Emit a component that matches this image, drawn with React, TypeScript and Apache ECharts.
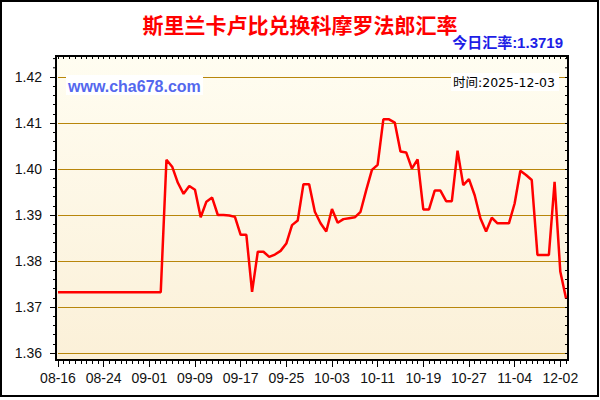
import React, { useEffect, useRef } from "react";
import * as echarts from "echarts";

const titleText = "斯里兰卡卢比兑换科摩罗法郎汇率";
const todayText = "今日汇率:1.3719";
const timeText = "时间:2025-12-03";
const watermark = "www.cha678.com";

const dates = [
  "08-16","08-17","08-18","08-19","08-20","08-21","08-22","08-23","08-24","08-25","08-26","08-27","08-28","08-29","08-30","08-31",
  "09-01","09-02","09-03","09-04","09-05","09-06","09-07","09-08","09-09","09-10","09-11","09-12","09-13","09-14","09-15",
  "09-16","09-17","09-18","09-19","09-20","09-21","09-22","09-23","09-24","09-25","09-26","09-27","09-28","09-29","09-30",
  "10-01","10-02","10-03","10-04","10-05","10-06","10-07","10-08","10-09","10-10","10-11","10-12","10-13","10-14","10-15",
  "10-16","10-17","10-18","10-19","10-20","10-21","10-22","10-23","10-24","10-25","10-26","10-27","10-28","10-29","10-30","10-31",
  "11-01","11-02","11-03","11-04",
  "11-05","11-06","11-07","11-10","11-11","11-12","11-13",
  "12-02","12-03",
];

const rates = [
  1.3732,1.3732,1.3732,1.3732,1.3732,1.3732,1.3732,1.3732,1.3732,1.3732,
  1.3732,1.3732,1.3732,1.3732,1.3732,1.3732,1.3732,1.3732,1.3732,
  1.4020,1.4005,1.3970,1.3946,1.3963,1.3955,1.3895,1.3929,1.3938,1.3900,
  1.3900,1.3899,1.3896,1.3857,1.3857,1.3733,1.3820,1.3820,1.3809,1.3814,
  1.3822,1.3838,1.3878,1.3888,1.3967,1.3967,1.3907,1.3882,1.3864,1.3913,
  1.3883,1.3891,1.3893,1.3895,1.3907,1.3954,1.3998,1.4009,1.4108,1.4108,
  1.4101,1.4038,1.4036,1.4001,1.4021,1.3912,1.3912,1.3953,1.3953,1.3930,
  1.3930,1.4040,1.3965,1.3978,1.3943,1.3893,1.3864,1.3894,1.3882,1.3882,
  1.3882,1.3925,1.3996,1.3987,1.3976,1.3813,1.3813,1.3813,1.3972,1.3777,
  1.3719,
];

const yMin = 1.36;
const yMax = 1.42;
const yStep = 0.01;

export default function App() {
  const ref = useRef<HTMLDivElement>(null);
  useEffect(() => {
    if (!ref.current) return;
    const chart = echarts.init(ref.current, null, { renderer: "svg" });
    const labelFont = "'Liberation Sans', Arial, sans-serif";
    const tickLine = { color: "#000", width: 1 };
    const catBase = {
      type: "category" as const,
      data: dates,
      boundaryGap: false,
      axisLine: { show: false },
      splitLine: { show: false },
    };
    chart.setOption({
      animation: false,
      backgroundColor: "#ffffff",
      grid: { left: 58, right: 34, top: 77, bottom: 47, containLabel: false },
      xAxis: [
        {
          ...catBase,
          position: "bottom",
          offset: 7,
          axisTick: { show: true, interval: 7, length: 7, lineStyle: tickLine },
          axisLabel: {
            interval: 7,
            fontSize: 14,
            color: "#111",
            fontFamily: labelFont,
            margin: 11,
          },
        },
        {
          ...catBase,
          position: "bottom",
          offset: 7,
          axisTick: { show: true, interval: 0, length: 4, lineStyle: tickLine },
          axisLabel: { show: false },
        },
        {
          ...catBase,
          position: "top",
          offset: 21,
          axisTick: { show: true, interval: 0, length: 3, inside: true, lineStyle: tickLine },
          axisLabel: { show: false },
        },
      ],
      yAxis: [
        {
          type: "value",
          min: yMin,
          max: yMax,
          interval: yStep,
          position: "left",
          offset: 2,
          axisLine: { show: false },
          axisTick: { show: true, length: 6, lineStyle: tickLine },
          minorTick: { show: true, splitNumber: 5, length: 3, lineStyle: tickLine },
          axisLabel: {
            formatter: (v: number) => v.toFixed(2),
            fontSize: 14,
            color: "#111",
            fontFamily: labelFont,
            margin: 14,
          },
          splitLine: { show: true, lineStyle: { color: "#B8860B", width: 1 } },
        },
        {
          type: "value",
          min: yMin,
          max: yMax,
          interval: yStep,
          position: "right",
          offset: 2,
          axisLine: { show: false },
          axisTick: { show: true, inside: true, length: 3, lineStyle: tickLine },
          minorTick: { show: true, splitNumber: 5, length: 3, lineStyle: tickLine },
          axisLabel: { show: false },
          splitLine: { show: false },
        },
      ],
      series: [
        {
          type: "line",
          xAxisIndex: 0,
          yAxisIndex: 0,
          data: rates,
          showSymbol: false,
          symbol: "none",
          lineStyle: { color: "#FF0000", width: 2.5 },
          z: 5,
        },
      ],
      graphic: [
        {
          type: "rect",
          z: -10,
          shape: { x: 56, y: 56, width: 512, height: 304 },
          style: {
            fill: new echarts.graphic.LinearGradient(0, 0, 0, 1, [
              { offset: 0, color: "#FFFDF1" },
              { offset: 1, color: "#FBF0D8" },
            ]),
          },
        },
        {
          type: "rect",
          z: 1,
          shape: { x: 66, y: 75, width: 137, height: 20 },
          style: { fill: "#FFFFFF" },
        },
        {
          type: "text",
          z: 2,
          style: {
            text: watermark,
            x: 68,
            y: 86,
            fill: "#5468EE",
            font: "bold 16px 'Liberation Sans', Arial, sans-serif",
            textAlign: "left",
            textVerticalAlign: "middle",
          },
        },
        {
          type: "rect",
          z: 1,
          shape: { x: 451, y: 73, width: 108, height: 18 },
          style: { fill: "#FFFFFF" },
        },
        {
          type: "text",
          z: 2,
          style: {
            text: timeText,
            x: 453,
            y: 82,
            fill: "#000",
            font: "12.5px 'DejaVu Sans', 'Noto Sans CJK SC', sans-serif",
            textAlign: "left",
            textVerticalAlign: "middle",
          },
        },
        {
          type: "text",
          z: 2,
          style: {
            text: titleText,
            x: 300,
            y: 24,
            fill: "#FF0000",
            font: "bold 21px 'Noto Sans CJK SC', sans-serif",
            textAlign: "center",
            textVerticalAlign: "middle",
          },
        },
        {
          type: "text",
          z: 2,
          style: {
            text: todayText,
            x: 563,
            y: 42,
            fill: "#1E1EE6",
            font: "bold 15px 'Liberation Sans', 'Noto Sans CJK SC', sans-serif",
            textAlign: "right",
            textVerticalAlign: "middle",
          },
        },
        // minor ticks above the top labelled value (frame region)
        { type: "line", z: 3, shape: { x1: 53, y1: 67.8, x2: 56, y2: 67.8 }, style: { stroke: "#000", lineWidth: 1 } },
        { type: "line", z: 3, shape: { x1: 53, y1: 58.6, x2: 56, y2: 58.6 }, style: { stroke: "#000", lineWidth: 1 } },
        { type: "line", z: 3, shape: { x1: 565, y1: 67.8, x2: 568, y2: 67.8 }, style: { stroke: "#000", lineWidth: 1 } },
        { type: "line", z: 3, shape: { x1: 565, y1: 58.6, x2: 568, y2: 58.6 }, style: { stroke: "#000", lineWidth: 1 } },
        {
          type: "rect",
          z: 10,
          shape: { x: 56, y: 56, width: 512, height: 304 },
          style: { fill: "none", stroke: "#000", lineWidth: 2 },
        },
        {
          type: "rect",
          z: 10,
          shape: { x: 1, y: 1, width: 597, height: 395 },
          style: { fill: "none", stroke: "#000", lineWidth: 2 },
        },
      ],
    });
    return () => chart.dispose();
  }, []);
  return (
    <div
      ref={ref}
      style={{ position: "fixed", left: 0, top: 0, width: 600, height: 400 }}
    />
  );
}
